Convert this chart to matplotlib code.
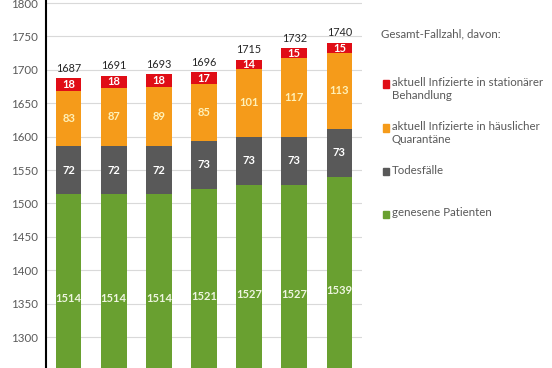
import matplotlib
matplotlib.use('Agg')
import matplotlib.pyplot as plt
import numpy as np

plt.rcParams['font.family'] = ['Lato', 'DejaVu Sans']

# data
genesen = [1514, 1514, 1514, 1521, 1527, 1527, 1539]
tote = [72, 72, 72, 73, 73, 73, 73]
quarantaene = [83, 87, 89, 85, 101, 117, 113]
stationaer = [18, 18, 18, 17, 14, 15, 15]
gesamt = [1687, 1691, 1693, 1696, 1715, 1732, 1740]

legend_title = 'Gesamt-Fallzahl, davon:'
legend_labels = ['aktuell Infizierte in stationärer\nBehandlung',
                 'aktuell Infizierte in häuslicher\nQuarantäne',
                 'Todesfälle',
                 'genesene Patienten']

c_red = '#e00d16'
c_orange = '#f59b1a'
c_grey = '#595959'
c_green = '#69a030'
excel_base = 1200  # excel axis minimum; labels are centred on it

fig = plt.figure(figsize=(5.52, 3.68), dpi=100)
ax = fig.add_axes([46/552, 0, (362-46)/552, 1])

x = np.arange(len(genesen))
w = 0.57
g = np.array(genesen)
t = np.array(tote)
q = np.array(quarantaene)
s = np.array(stationaer)

ax.bar(x, g - excel_base, bottom=excel_base, width=w, color=c_green, zorder=3)
ax.bar(x, t, bottom=g, width=w, color=c_grey, zorder=3)
ax.bar(x, q, bottom=g+t, width=w, color=c_orange, zorder=3)
ax.bar(x, s, bottom=g+t+q, width=w, color=c_red, zorder=3)

fs_in = 8
for i in x:
    ax.text(i, (excel_base + g[i]) / 2, str(g[i]), ha='center', va='center',
            color='#eef5e0', fontsize=fs_in, fontweight='bold', zorder=4)
    ax.text(i, g[i] + t[i] / 2, str(t[i]), ha='center', va='center',
            color='white', fontsize=fs_in, fontweight='bold', zorder=4)
    ax.text(i, g[i] + t[i] + q[i] / 2, str(q[i]), ha='center', va='center',
            color='#fff1b8', fontsize=fs_in, fontweight='bold', zorder=4)
    ax.text(i, g[i] + t[i] + q[i] + s[i] / 2, str(s[i]), ha='center', va='center',
            color='white', fontsize=fs_in, fontweight='bold', zorder=4)
    ax.annotate(str(gesamt[i]), (i, gesamt[i]), xytext=(0, 3.5),
                textcoords='offset points', ha='center', va='bottom',
                color='#262626', fontsize=7.8)

ax.set_xlim(-0.5, 6.5)
ax.set_ylim(1253.6, 1804.5)
ax.set_yticks(np.arange(1300, 1801, 50))
ax.tick_params(axis='y', length=0, pad=6, labelsize=8.3, labelcolor='#595959')
ax.tick_params(axis='x', length=0, labelbottom=False)
ax.grid(axis='y', color='#d9d9d9', linewidth=0.8, zorder=0)
for sp in ['top', 'right', 'bottom']:
    ax.spines[sp].set_visible(False)
ax.spines['left'].set_color('black')
ax.spines['left'].set_linewidth(1.5)

# legend drawn as text, like the original
fs_leg = 8.3
fig.text(381/552, 1 - 34/368, legend_title, fontsize=fs_leg, color='#595959', va='center')
leg_y = [84, 128, 171, 214]
leg_c = [c_red, c_orange, c_grey, c_green]
for yy, cc, lab in zip(leg_y, leg_c, legend_labels):
    fig.patches.append(plt.Rectangle((382.5/552, 1 - (yy+3.5)/368), 6.5/552, 7/368,
                                     transform=fig.transFigure, color=cc, figure=fig))
    fig.text(392/552, 1 - (yy - 6.5)/368, lab, fontsize=fs_leg, color='#595959',
             va='top', linespacing=1.18, transform=fig.transFigure)

fig.savefig('out.png', dpi=100)
